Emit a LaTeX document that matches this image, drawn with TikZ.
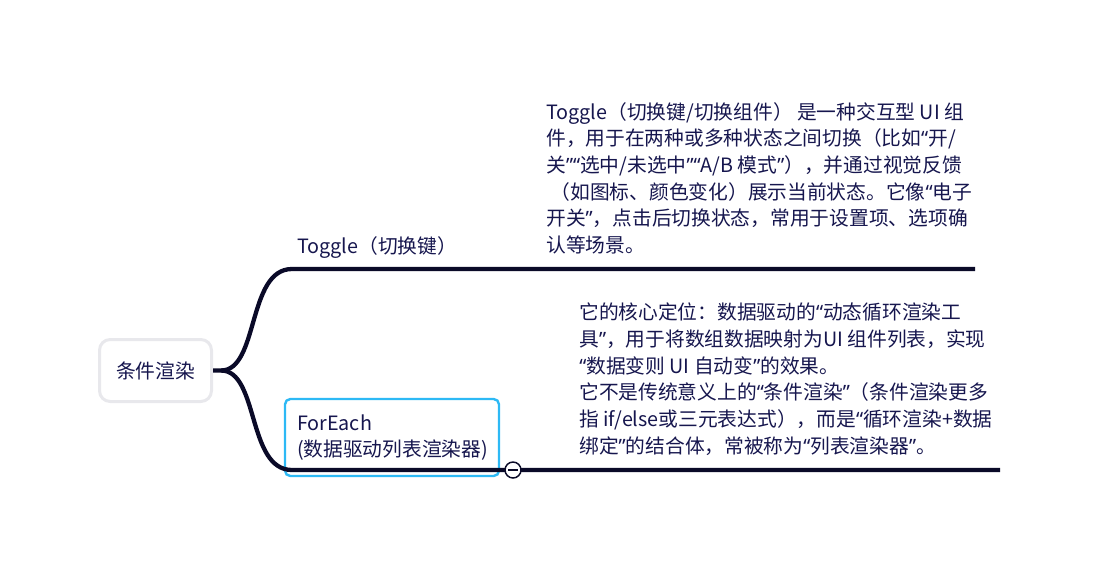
\documentclass[tikz,border=0pt]{standalone}
\usepackage{fontspec}
\setmainfont{Noto Sans CJK SC}
\newfontfamily\qfont{Noto Sans}
\newcommand{\comi}{{\qfont “}}
\newcommand{\comd}{{\qfont ”}}
\usepackage{xcolor}
\definecolor{Ramacolor}{RGB}{10,10,40}
\definecolor{Textocolor}{RGB}{22,22,78}
\definecolor{Raizcolor}{RGB}{232,232,236}
\definecolor{Ciancolor}{RGB}{45,185,245}
\usetikzlibrary{calc, positioning}

\begin{document}
\begin{tikzpicture}[
  x=0.75pt, y=-0.75pt,
  font=\fontsize{14.8}{20}\selectfont,
  text=Textocolor,
  root/.style={draw=Raizcolor, rounded corners=8pt, line width=2.25pt,
               fill=white, minimum width=84pt, minimum height=46.5pt, align=center},
  topic/.style={draw=Ciancolor, rounded corners=4pt, line width=1.8pt,
                fill=white, text width=142.5pt, inner xsep=9pt,
                minimum height=57.75pt, align=left},
  desc/.style={align=left, inner sep=0pt, anchor=north west},
  lbl/.style={inner sep=0pt, anchor=base west},
  branch/.style={draw=Ramacolor, line width=3.2pt, line join=round},
  fold/.style={circle, draw=Ramacolor, line width=1.1pt, fill=white,
               minimum size=12pt, inner sep=0pt}
]
\useasboundingbox (0,0) rectangle (1118,586);

%% ——— Nodo central ———
\node[root] (root) at (155.5,370.5) {条件渲染};

%% ——— Puntos de las ramas ———
\coordinate (fork)    at ($(root.east)+(8,0)$);
\coordinate (tgstart) at (292,269);
\coordinate (tgend)   at (975,269);
\coordinate (festart) at (292,470);
\coordinate (feend)   at (1000,470);

%% ——— Rama 1: Toggle ———
\node[lbl] (tglabel) at (297,253.5) {Toggle（切换键）};
\node[desc] (tgdesc) at (546,102) {Toggle（切换键/切换组件） 是一种交互型 UI 组\\
件，用于在两种或多种状态之间切换（比如\comi 开/\\
关\comd\comi 选中/未选中\comd\comi A/B 模式\comd），并通过视觉反馈\\
\ （如图标、颜色变化）展示当前状态。它像\comi 电子\\
开关\comd，点击后切换状态，常用于设置项、选项确\\
认等场景。};
\draw[branch] (root.east) -- (fork)
  .. controls +(38,0) and +(-45,0) .. (tgstart) -- (tgend);

%% ——— Rama 2: ForEach ———
\node[topic] (fe) at (392,437.5) {ForEach\\(数据驱动列表渲染器)};
\node[desc] (fedesc) at (579,303) {它的核心定位：数据驱动的\comi 动态循环渲染工\\
具\comd，用于将数组数据映射为UI 组件列表，实现\\
\comi 数据变则 UI 自动变\comd 的效果。\\
它不是传统意义上的\comi 条件渲染\comd（条件渲染更多\\
指 if/else或三元表达式），而是\comi 循环渲染+数据\\
绑定\comd 的结合体，常被称为\comi 列表渲染器\comd。};
\draw[branch] (fork)
  .. controls +(38,0) and +(-45,0) .. (festart) -- (feend);

%% ——— Botón de plegado ———
\node[fold] (fefold) at (513,470) {};
\draw[Ramacolor, line width=1.1pt] ([xshift=3pt]fefold.west) -- ([xshift=-3pt]fefold.east);

\end{tikzpicture}
\end{document}
